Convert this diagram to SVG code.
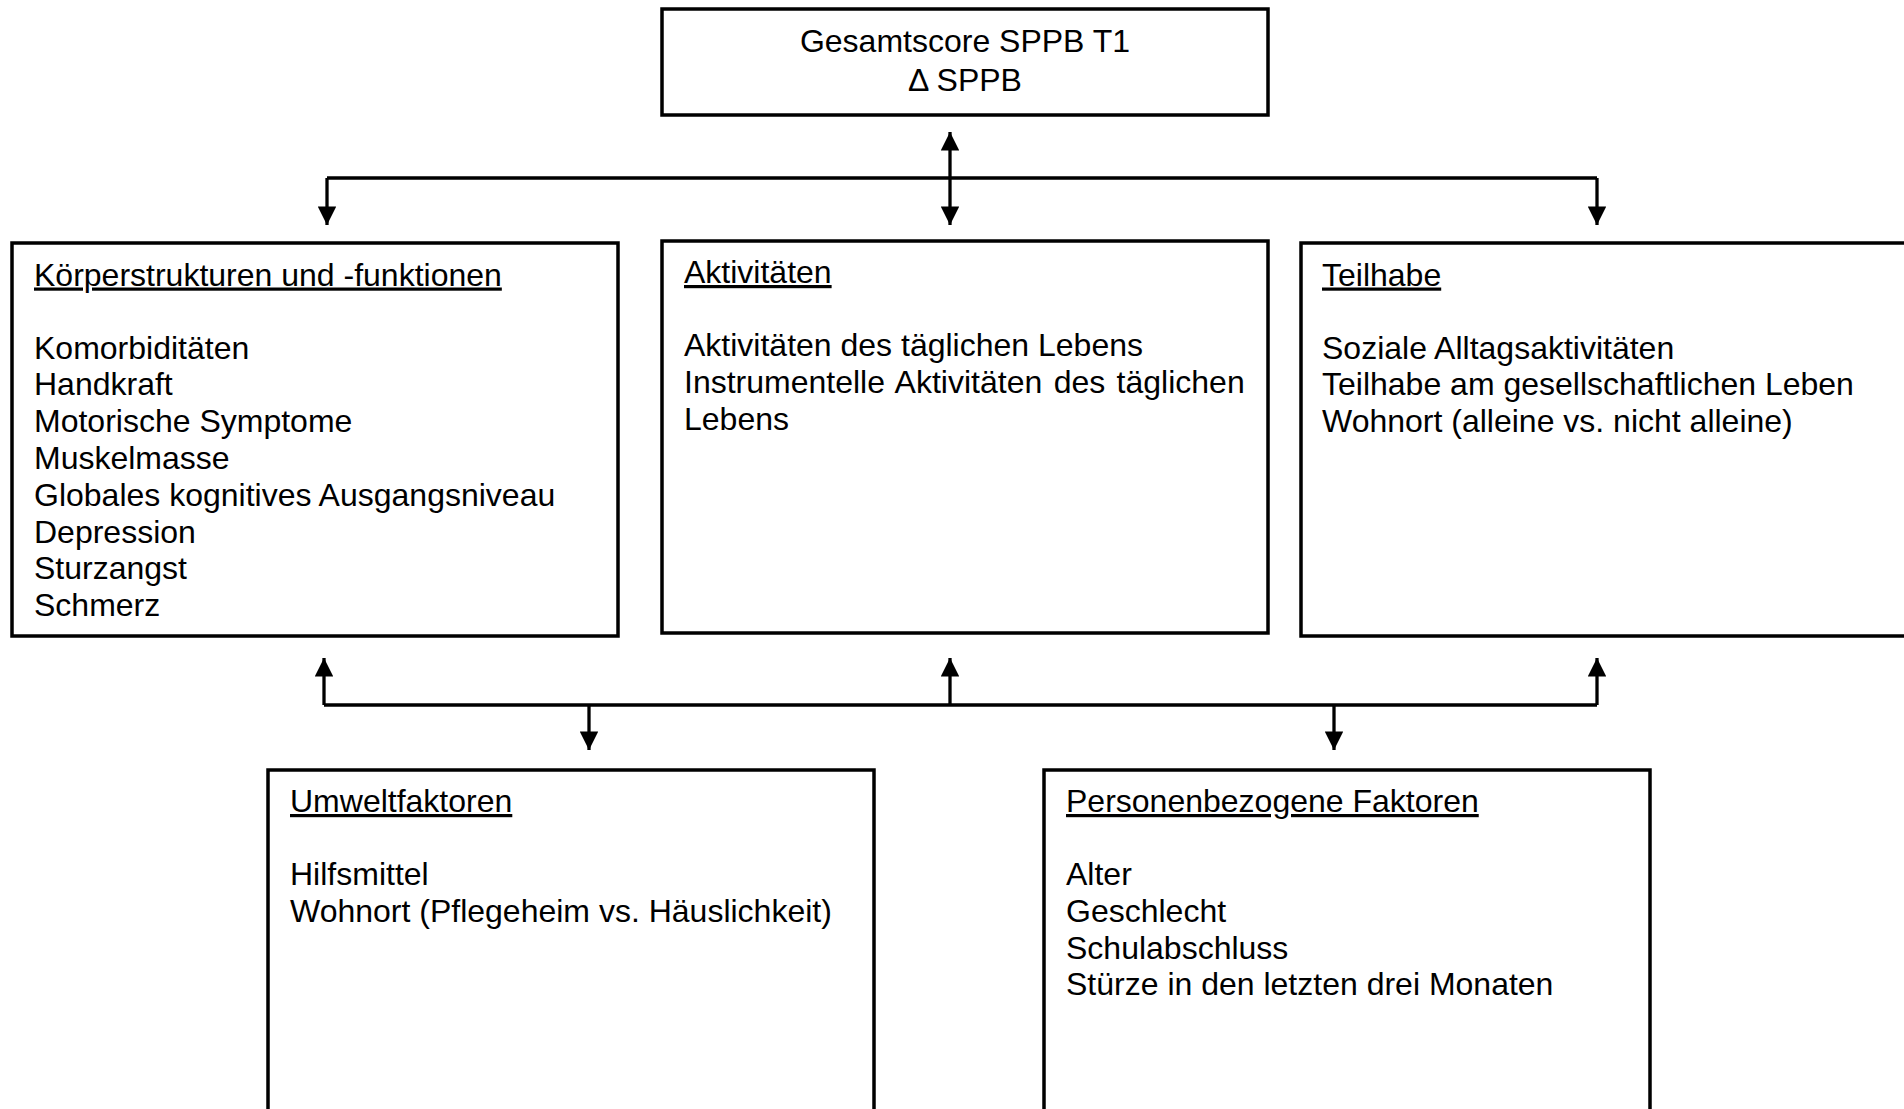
<svg xmlns="http://www.w3.org/2000/svg" width="1904" height="1109" viewBox="0 0 1904 1109">
<defs>
<marker id="ah" viewBox="0 0 10 10" refX="10" refY="5" markerWidth="6" markerHeight="5.6" orient="auto" markerUnits="strokeWidth">
<path d="M0,0 L10,5 L0,10 z" fill="#000"/>
</marker>
<style>
.box{fill:#fff;stroke:#000;stroke-width:3.5}
.t{font-family:"Liberation Sans",Arial,sans-serif;font-size:32px;fill:#000}
.h{text-decoration:underline}
.c{fill:none;stroke:#000;stroke-width:3.3}
.a{fill:none;stroke:#000;stroke-width:3.3;marker-end:url(#ah)}
</style>
</defs>
<rect width="1904" height="1109" fill="#fff"/>
<g id="connectors">
<path class="c" d="M327,178 H1597"/>
<path class="a" d="M950,178 V132"/>
<path class="a" d="M950,178 V225"/>
<path class="a" d="M327,178 V225"/>
<path class="a" d="M1597,178 V225"/>
<path class="c" d="M324,705 H1597"/>
<path class="a" d="M324,705 V658"/>
<path class="a" d="M950,705 V658"/>
<path class="a" d="M1597,705 V658"/>
<path class="a" d="M589,705 V750"/>
<path class="a" d="M1334,705 V750"/>
</g>
<g id="node-sppb">
<rect class="box" x="662" y="9" width="606" height="106"/>
<text class="t" x="965" y="51.5" text-anchor="middle">Gesamtscore SPPB T1</text>
<text class="t" x="965" y="90.5" text-anchor="middle">Δ SPPB</text>
</g>
<g id="node-koerper">
<rect class="box" x="12" y="243" width="606" height="393"/>
<text class="t h" x="34" y="285.5">Körperstrukturen und -funktionen</text>
<text class="t" x="34" y="358.5">Komorbiditäten</text>
<text class="t" x="34" y="395.3">Handkraft</text>
<text class="t" x="34" y="432.1">Motorische Symptome</text>
<text class="t" x="34" y="468.9">Muskelmasse</text>
<text class="t" x="34" y="505.7">Globales kognitives Ausgangsniveau</text>
<text class="t" x="34" y="542.5">Depression</text>
<text class="t" x="34" y="579.3">Sturzangst</text>
<text class="t" x="34" y="616.1">Schmerz</text>
</g>
<g id="node-aktivitaeten">
<rect class="box" x="662" y="241" width="606" height="392"/>
<text class="t h" x="684" y="283">Aktivitäten</text>
<text class="t" x="684" y="356">Aktivitäten des täglichen Lebens</text>
<text class="t" x="684" y="392.8" word-spacing="2.5">Instrumentelle Aktivitäten des täglichen</text>
<text class="t" x="684" y="429.6">Lebens</text>
</g>
<g id="node-teilhabe">
<rect class="box" x="1301" y="243" width="620" height="393"/>
<text class="t h" x="1322" y="285.5">Teilhabe</text>
<text class="t" x="1322" y="358.5">Soziale Alltagsaktivitäten</text>
<text class="t" x="1322" y="395.3">Teilhabe am gesellschaftlichen Leben</text>
<text class="t" x="1322" y="432.1">Wohnort (alleine vs. nicht alleine)</text>
</g>
<g id="node-umwelt">
<rect class="box" x="268" y="770" width="606" height="360"/>
<text class="t h" x="290" y="812">Umweltfaktoren</text>
<text class="t" x="290" y="885">Hilfsmittel</text>
<text class="t" x="290" y="921.8">Wohnort (Pflegeheim vs. Häuslichkeit)</text>
</g>
<g id="node-person">
<rect class="box" x="1044" y="770" width="606" height="360"/>
<text class="t h" x="1066" y="812">Personenbezogene Faktoren</text>
<text class="t" x="1066" y="885">Alter</text>
<text class="t" x="1066" y="921.8">Geschlecht</text>
<text class="t" x="1066" y="958.6">Schulabschluss</text>
<text class="t" x="1066" y="995.4">Stürze in den letzten drei Monaten</text>
</g>
</svg>
